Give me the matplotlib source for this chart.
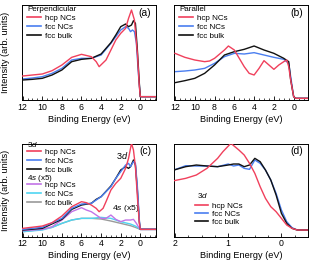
import matplotlib
matplotlib.use("Agg")
import matplotlib.pyplot as plt
from matplotlib.lines import Line2D
from matplotlib.ticker import MultipleLocator

plt.rcParams['font.family'] = ['Liberation Sans', 'DejaVu Sans']
plt.rcParams['mathtext.fontset'] = 'custom'
plt.rcParams['mathtext.rm'] = 'Liberation Sans'
plt.rcParams['mathtext.it'] = 'Liberation Sans:italic'

RED = '#f0405c'
BLUE = '#4a7ef0'
BLACK = '#111111'
VIOLET = '#c273e6'
CYAN = '#4fd6f2'
GREY = '#9a9a9a'

# ---------------- panel (a): perpendicular ----------------
a_e = [12, 11, 10, 9, 8, 7, 6, 5, 4.5, 4.2, 3.5, 3, 2.5, 2, 1.5, 1.2, 0.9, 0.6, 0.3, 0.1, 0, -0.2, -1.6]
a_hcp = [72, 75, 78, 88, 105, 128, 137, 130, 115, 100, 120, 150, 180, 200, 215, 245, 270, 240, 140, 40, 10, 10, 10]
a_e2 = [12, 11, 10, 9, 8, 7, 6, 5, 4, 3, 2.5, 2, 1.5, 1.2, 1.0, 0.8, 0.6, 0.4, 0.2, 0, -0.2, -1.6]
a_fnc = [63, 66, 70, 80, 95, 120, 125, 125, 135, 170, 190, 210, 220, 215, 205, 210, 205, 170, 80, 10, 10, 10]
a_e3 = [12, 11, 10, 9, 8, 7, 6, 5, 4, 3, 2.5, 2, 1.5, 1.2, 0.9, 0.7, 0.5, 0.3, 0.1, 0, -0.2, -1.6]
a_blk = [60, 62, 65, 75, 90, 115, 122, 125, 138, 172, 195, 220, 228, 220, 225, 238, 230, 150, 50, 10, 10, 10]

# ---------------- panel (b): parallel ----------------
b_e = [12, 11, 10, 9, 8.5, 8, 7, 6.6, 6, 5.5, 5, 4.5, 4, 3.5, 3, 2.5, 2, 1.5, 1.0, 0.7, 0.5, 0.3, 0, -0.2, -1.6]
b_hcp = [140, 128, 120, 115, 117, 125, 150, 162, 150, 125, 100, 80, 75, 95, 118, 105, 92, 105, 115, 120, 100, 60, 10, 5, 5]
b_e2 = [12, 11, 10, 9, 8, 7, 6, 5, 4, 3, 2, 1, 0.5, 0.3, 0, -0.2, -1.6]
b_fnc = [85, 87, 90, 95, 110, 130, 140, 138, 142, 135, 128, 122, 110, 70, 10, 5, 5]
b_blk = [52, 58, 65, 80, 105, 135, 145, 152, 162, 150, 140, 125, 115, 60, 10, 5, 5]

# ---------------- panel (c): 3d and 4s (x5) ----------------
c_e = [12, 10, 9, 8, 7, 6, 5.5, 5, 4.5, 4.2, 3.8, 3.5, 3, 2.5, 2, 1.5, 1.2, 0.9, 0.7, 0.5, 0.3, 0.1, 0, -0.2, -1.6]
c_hcp = [25, 32, 42, 62, 90, 105, 102, 95, 85, 75, 85, 105, 140, 160, 175, 205, 235, 280, 260, 210, 120, 40, 22, 22, 22]
c_e2 = [12, 10, 8, 7, 6, 5, 4.5, 4, 3, 2.5, 2, 1.5, 1.2, 1.0, 0.7, 0.5, 0.3, 0.1, 0, -0.2, -1.6]
c_fnc = [22, 28, 55, 85, 98, 100, 110, 120, 150, 175, 195, 215, 220, 210, 225, 220, 150, 50, 22, 22, 22]
c_blk = [20, 25, 52, 82, 95, 100, 112, 120, 152, 175, 200, 210, 205, 210, 230, 215, 140, 45, 22, 22, 22]
c_e4 = [12, 10, 9, 8, 7, 6, 5.5, 5, 4, 3.5, 3, 2.5, 2, 1.5, 1, 0.7, 0.4, 0.2, 0, -0.2, -1.6]
c4_hcp = [18, 22, 30, 50, 75, 87, 80, 75, 55, 55, 65, 52, 45, 50, 50, 52, 40, 30, 22, 22, 22]
c_e5 = [12, 10, 9, 8, 7, 6, 5, 4, 3, 2, 1, 0.5, 0, -0.2, -1.6]
c4_fnc = [15, 20, 28, 40, 50, 55, 55, 58, 55, 45, 38, 32, 22, 22, 22]
c4_blk = [15, 22, 28, 40, 50, 55, 55, 53, 47, 40, 33, 28, 22, 22, 22]

# ---------------- panel (d): 3d near Fermi level ----------------
d_e = [2.02, 1.8, 1.6, 1.4, 1.2, 1.1, 0.95, 0.8, 0.7, 0.6, 0.5, 0.4, 0.3, 0.2, 0.1, 0.0, -0.1, -0.2, -0.3, -0.5]
d_hcp = [168, 175, 185, 205, 235, 255, 280, 260, 245, 220, 190, 150, 115, 90, 75, 55, 35, 25, 20, 20]
d_e2 = [2.02, 1.8, 1.6, 1.4, 1.2, 1.0, 0.9, 0.8, 0.7, 0.6, 0.5, 0.4, 0.3, 0.2, 0.1, 0.0, -0.1, -0.2, -0.3, -0.5]
d_fnc = [200, 213, 212, 212, 210, 218, 212, 215, 205, 202, 230, 220, 200, 170, 130, 80, 45, 27, 20, 20]
d_blk = [200, 210, 215, 212, 210, 215, 218, 218, 210, 215, 235, 225, 200, 170, 125, 70, 40, 25, 20, 20]

W, H = 310, 266
fig = plt.figure(figsize=(W / 100, H / 100), dpi=100)

def box(l, r, t, b):
    return [l / W, 1 - b / H, (r - l) / W, (b - t) / H]

ax_a = fig.add_axes(box(21.7, 156, 5, 100))
ax_b = fig.add_axes(box(174, 308, 5, 100))
ax_c = fig.add_axes(box(21.7, 156, 144, 236.7))
ax_d = fig.add_axes(box(174, 308, 144, 236.7))

LW = 1.0
FS_T = 6.3
FS_L = 6.6
FS_G = 5.8

def style(ax, xlim, ylim, major, minor):
    ax.set_xlim(*xlim)
    ax.set_ylim(*ylim)
    ax.xaxis.set_major_locator(MultipleLocator(major))
    ax.xaxis.set_minor_locator(MultipleLocator(minor))
    ax.tick_params(axis='x', which='major', direction='in', length=3, width=0.6,
                   labelsize=FS_T, pad=2, top=False)
    ax.tick_params(axis='x', which='minor', direction='in', length=1.6, width=0.5, top=False)
    ax.set_yticks([])
    for s in ax.spines.values():
        s.set_linewidth(0.7)
    ax.set_xlabel('Binding Energy (eV)', fontsize=FS_L, labelpad=2)

style(ax_a, (12.1, -1.6), (0, 285), 2, 0.5)
style(ax_b, (12.1, -1.45), (0, 285), 2, 0.5)
style(ax_c, (12.1, -1.6), (0, 278), 2, 0.5)
style(ax_d, (2.02, -0.5), (0, 278), 1, 0.25)

for ax in (ax_a, ax_c):
    ax.set_ylabel('Intensity (arb. units)', fontsize=FS_L)
    ax.yaxis.set_label_coords(-0.09, 0.5)

# (a)
ax_a.plot(a_e3, a_blk, color=BLACK, lw=LW, zorder=3)
ax_a.plot(a_e2, a_fnc, color=BLUE, lw=LW, zorder=2)
ax_a.plot(a_e, a_hcp, color=RED, lw=LW, zorder=4)
# (b)
ax_b.plot(b_e2, b_blk, color=BLACK, lw=LW, zorder=3)
ax_b.plot(b_e2, b_fnc, color=BLUE, lw=LW, zorder=2)
ax_b.plot(b_e, b_hcp, color=RED, lw=LW, zorder=4)
# (c)
ax_c.plot(c_e5, c4_blk, color=GREY, lw=LW, zorder=2)
ax_c.plot(c_e5, c4_fnc, color=CYAN, lw=LW, zorder=2)
ax_c.plot(c_e4, c4_hcp, color=VIOLET, lw=LW, zorder=3)
ax_c.plot(c_e2, c_blk, color=BLACK, lw=LW, zorder=4)
ax_c.plot(c_e2, c_fnc, color=BLUE, lw=LW, zorder=4)
ax_c.plot(c_e, c_hcp, color=RED, lw=LW, zorder=5)
# (d)
ax_d.plot(d_e2, d_blk, color=BLACK, lw=LW, zorder=3)
ax_d.plot(d_e2, d_fnc, color=BLUE, lw=LW, zorder=2)
ax_d.plot(d_e, d_hcp, color=RED, lw=LW, zorder=4)

LABELS = ['hcp NCs', 'fcc NCs', 'fcc bulk']

def handles(cols):
    return [Line2D([], [], color=c, lw=1.2) for c in cols]

def leg(ax, cols, anchor, title=None, spacing=0.15):
    return ax.legend(handles(cols), LABELS, loc='upper left', bbox_to_anchor=anchor,
                     frameon=False, fontsize=FS_G, handlelength=1.7, handletextpad=0.5,
                     labelspacing=spacing, borderpad=0, borderaxespad=0,
                     title=title, title_fontsize=FS_G, alignment='left')

leg(ax_a, [RED, BLUE, BLACK], (0.04, 0.985), 'Perpendicular')
leg(ax_b, [RED, BLUE, BLACK], (0.04, 0.985), 'Parallel')

# (c) two legend groups with italic headers
l1 = leg(ax_c, [RED, BLUE, BLACK], (0.04, 0.955))
ax_c.add_artist(l1)
leg(ax_c, [VIOLET, CYAN, GREY], (0.04, 0.595))
ax_c.text(0.04, 0.99, '3$d$', transform=ax_c.transAxes, fontsize=FS_G, va='center', ha='left')
ax_c.text(0.04, 0.632, '4$s$ (x5)', transform=ax_c.transAxes, fontsize=FS_G, va='center', ha='left')
ax_c.text(0.70, 0.875, '3$d$', transform=ax_c.transAxes, fontsize=FS_L, va='center', ha='left')
ax_c.text(0.67, 0.30, '4$s$ (x5)', transform=ax_c.transAxes, fontsize=FS_G + 0.3, va='center', ha='left')

# (d)
leg(ax_d, [RED, BLUE, BLACK], (0.155, 0.375), spacing=0.08)
ax_d.text(0.17, 0.44, '3$d$', transform=ax_d.transAxes, fontsize=FS_G, va='center', ha='left')

for ax, lab in [(ax_a, '(a)'), (ax_b, '(b)'), (ax_c, '(c)'), (ax_d, '(d)')]:
    ax.text(0.965, 0.92, lab, transform=ax.transAxes, fontsize=FS_L + 0.8,
            ha='right', va='center')

fig.savefig('out.png', dpi=100)
